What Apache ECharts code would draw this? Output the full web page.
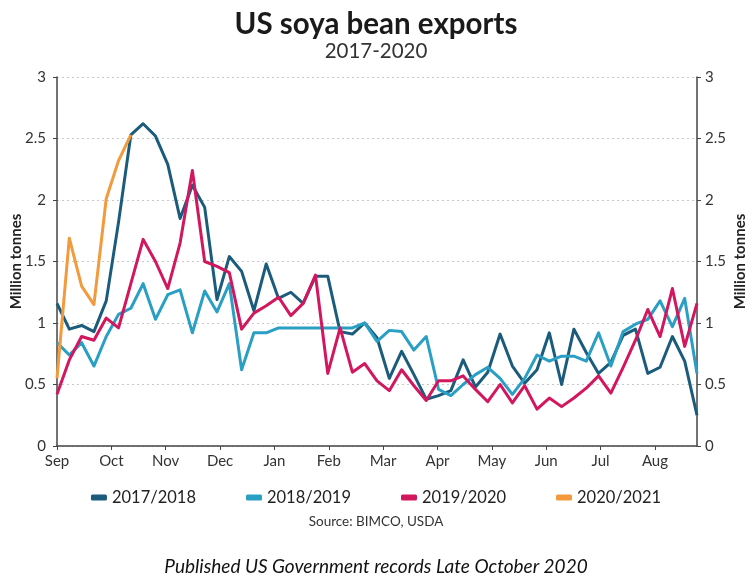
<!DOCTYPE html>
<html>
<head>
<meta charset="utf-8">
<script src="https://cdn.jsdelivr.net/npm/echarts@6/dist/echarts.min.js"></script>
<style>
  html, body { margin: 0; padding: 0; background: #fff; }
  #chart { width: 752px; height: 586px; }
</style>
</head>
<body>
<div id="chart"></div>
<script>
// month labels for the x axis (weeks counted from start of Sep)
var months = ['Sep', 'Oct', 'Nov', 'Dec', 'Jan', 'Feb', 'Mar', 'Apr', 'May', 'Jun', 'Jul', 'Aug'];
var weeksPerMonth = 53 / 12;

// weekly exports, million tonnes
var s2017 = [1.16, 0.95, 0.98, 0.93, 1.18, 1.82, 2.53, 2.62, 2.52, 2.29,
             1.85, 2.12, 1.94, 1.19, 1.54, 1.42, 1.10, 1.48, 1.20, 1.25,
             1.16, 1.38, 1.38, 0.93, 0.91, 1.00, 0.88, 0.55, 0.77, 0.58,
             0.38, 0.41, 0.45, 0.70, 0.48, 0.60, 0.91, 0.65, 0.51, 0.62,
             0.92, 0.50, 0.95, 0.76, 0.59, 0.68, 0.90, 0.95, 0.59, 0.64,
             0.89, 0.69, 0.25];
var s2018 = [0.84, 0.74, 0.84, 0.65, 0.89, 1.07, 1.12, 1.32, 1.03, 1.23,
             1.27, 0.92, 1.26, 1.09, 1.32, 0.62, 0.92, 0.92, 0.96, 0.96,
             0.96, 0.96, 0.96, 0.96, 0.96, 1.00, 0.85, 0.94, 0.93, 0.78,
             0.89, 0.46, 0.41, 0.50, 0.58, 0.64, 0.55, 0.42, 0.55, 0.74,
             0.69, 0.73, 0.73, 0.69, 0.92, 0.65, 0.93, 0.99, 1.03, 1.18,
             0.97, 1.20, 0.59];
var s2019 = [0.42, 0.70, 0.89, 0.86, 1.04, 0.96, 1.32, 1.68, 1.50, 1.28,
             1.65, 2.24, 1.50, 1.46, 1.41, 0.95, 1.08, 1.14, 1.21, 1.06,
             1.16, 1.39, 0.59, 0.96, 0.60, 0.67, 0.53, 0.45, 0.62, 0.49,
             0.37, 0.53, 0.53, 0.57, 0.46, 0.36, 0.50, 0.35, 0.49, 0.30,
             0.39, 0.32, 0.39, 0.47, 0.57, 0.43, 0.64, 0.86, 1.11, 0.89,
             1.28, 0.81, 1.16];
var s2020 = [0.55, 1.69, 1.30, 1.15, 2.01, 2.32, 2.53];

var seriesNames = ['2017/2018', '2018/2019', '2019/2020', '2020/2021'];
var seriesColors = ['#1b5c7c', '#2a9fc4', '#d3175f', '#f39a3c'];
var yTicks = ['0', '0.5', '1', '1.5', '2', '2.5', '3'];

function toPoints(arr) {
    return arr.map(function (v, i) { return [i, v]; });
}

var font = 'Lato, "Open Sans", sans-serif';
var chart = echarts.init(document.getElementById('chart'));

var yAxisBase = function (pos) {
    return {
        type: 'value',
        position: pos,
        min: 0, max: 3, interval: 0.5,
        name: 'Million tonnes',
        nameLocation: 'middle',
        nameRotate: 90,
        nameGap: pos == 'left' ? 33 : 36,
        nameMoveOverlap: false,
        nameTextStyle: { fontFamily: font, fontSize: 15, fontWeight: 'bold', color: '#222' },
        axisLine: { show: true, lineStyle: { color: '#444', width: 1.5 } },
        axisTick: { show: true, length: 4, lineStyle: { color: '#444' } },
        axisLabel: {
            fontFamily: font, fontSize: 15, color: '#333', margin: pos == 'left' ? 11 : 8,
            formatter: function (v) { return yTicks[Math.round(v * 2)]; }
        },
        splitLine: pos == 'left'
            ? { show: true, lineStyle: { color: '#c8c8c8', type: [2, 3], width: 1.2 } }
            : { show: false }
    };
};

var series = [s2017, s2018, s2019, s2020].map(function (arr, k) {
    return {
        name: seriesNames[k],
        type: 'line',
        data: toPoints(arr),
        showSymbol: false,
        symbol: 'none',
        lineStyle: { width: 3, color: seriesColors[k], join: 'round' },
        itemStyle: { color: seriesColors[k] },
        z: 2 + k
    };
});

chart.setOption({
    animation: false,
    color: seriesColors,
    title: {
        text: 'US soya bean exports',
        subtext: '2017-2020',
        left: 'center',
        top: 4,
        itemGap: 2,
        textStyle: { fontFamily: font, fontSize: 29.5, fontWeight: 'bold', color: '#1a1a1a' },
        subtextStyle: { fontFamily: font, fontSize: 20.5, color: '#333' }
    },
    grid: { left: 57, right: 55, top: 77, bottom: 140, outerBoundsMode: 'none', containLabel: false },
    xAxis: {
        type: 'value',
        min: 0, max: 52,
        interval: weeksPerMonth,
        axisLine: { show: true, onZero: false, lineStyle: { color: '#444', width: 1.5 } },
        axisTick: { show: true, length: 4, lineStyle: { color: '#444' } },
        axisLabel: {
            fontFamily: font, fontSize: 15, color: '#333', margin: 8,
            showMaxLabel: false,
            formatter: function (v) {
                var m = Math.round(v / weeksPerMonth);
                return m < 12 ? months[m] : '';
            }
        },
        splitLine: { show: false }
    },
    yAxis: [yAxisBase('left'), yAxisBase('right')],
    legend: {
        data: seriesNames,
        left: 'center',
        top: 484,
        icon: 'roundRect',
        itemWidth: 16,
        itemHeight: 6,
        itemGap: 50,
        textStyle: { fontFamily: font, fontSize: 16.5, color: '#222' }
    },
    graphic: [
        {
            type: 'text', left: 'center', top: 515,
            style: { text: 'Source: BIMCO, USDA', font: '13.5px ' + font, fill: '#333' }
        },
        {
            type: 'text', left: 'center', top: 557,
            style: { text: 'Published US Government records Late October 2020', font: 'italic 19px ' + font, fill: '#111' }
        }
    ],
    series: series
});
</script>
</body>
</html>
